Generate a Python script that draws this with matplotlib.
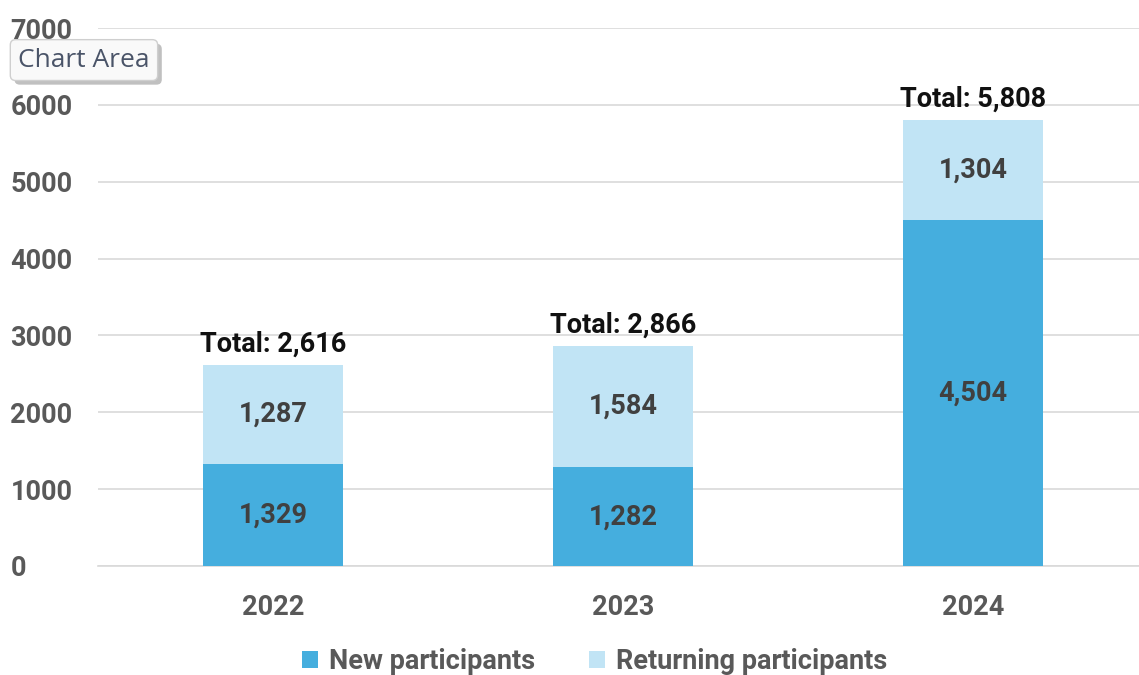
import matplotlib.pyplot as plt
import matplotlib.patheffects as pe
import numpy as np

years = ['2022', '2023', '2024']
new_participants = [1329, 1282, 4504]
returning_participants = [1287, 1584, 1304]
totals = [a + b for a, b in zip(new_participants, returning_participants)]

plt.rcParams['font.family'] = ['Roboto', 'DejaVu Sans']

fig = plt.figure(figsize=(11.39, 6.75), dpi=100)
ax = fig.add_axes([0.086, 0.1615, 0.922, 0.797])

x = np.arange(len(years))
w = 0.4
c_new = '#45aede'
c_ret = '#c1e4f5'
fs = 19.5

ax.bar(x, new_participants, w, color=c_new, label='New participants', zorder=3)
ax.bar(x, returning_participants, w, bottom=new_participants, color=c_ret,
       label='Returning participants', zorder=3)

for i in range(len(years)):
    ax.text(x[i], new_participants[i] / 2, f'{new_participants[i]:,}', ha='center', va='center',
            fontsize=fs, fontweight='bold', color='#404040', zorder=4)
    ax.text(x[i], new_participants[i] + returning_participants[i] / 2, f'{returning_participants[i]:,}',
            ha='center', va='center', fontsize=fs, fontweight='bold', color='#404040', zorder=4)
    ax.annotate(f'Total: {totals[i]:,}', (x[i], totals[i]), xytext=(0, 5), textcoords='offset points',
                ha='center', va='bottom', fontsize=fs, fontweight='bold', color='#111111', zorder=4)

ax.set_xlim(-0.5, 2.5)
ax.set_ylim(0, 7000)
ax.set_yticks(range(0, 7001, 1000))
ax.set_xticks(x)
ax.set_xticklabels(years)
ax.tick_params(axis='x', length=0, labelsize=fs, colors='#595959', pad=20)
ax.tick_params(axis='y', length=0, labelsize=fs, colors='#595959', pad=63)
for lab in ax.get_xticklabels() + ax.get_yticklabels():
    lab.set_fontweight('bold')
for lab in ax.get_yticklabels():
    lab.set_horizontalalignment('left')

ax.grid(axis='y', color='#d9d9d9', lw=1.2, zorder=0)
for s in ['top', 'right', 'left']:
    ax.spines[s].set_visible(False)
ax.spines['bottom'].set_color('#d9d9d9')
ax.spines['bottom'].set_linewidth(1.2)

leg = fig.legend(loc='center', bbox_to_anchor=(0.522, 0.02), ncol=2, frameon=False,
                 fontsize=fs, handlelength=0.6, handleheight=0.6, handletextpad=0.4,
                 columnspacing=2.0)
for t in leg.get_texts():
    t.set_color('#595959')
    t.set_fontweight('bold')

tip = fig.text(0.016, 0.911, 'Chart Area', fontsize=19, color='#4a5468', family='Open Sans',
               va='center', ha='left',
               bbox=dict(boxstyle='round,pad=0.3,rounding_size=0.2', fc='#f9f9f9', ec='#cfcfcf', lw=1))
tip.get_bbox_patch().set_path_effects([pe.SimplePatchShadow(offset=(3, -3), alpha=0.35), pe.Normal()])

fig.savefig('out.png', dpi=100)
